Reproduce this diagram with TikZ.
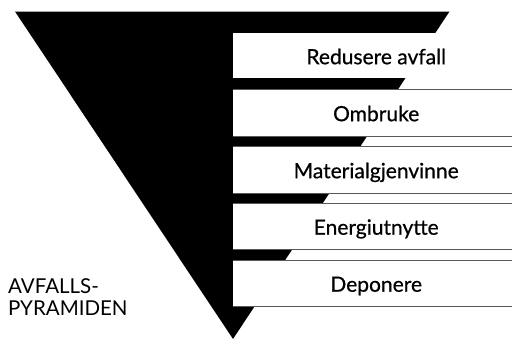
\documentclass[tikz,border=0pt]{standalone}
\usepackage{fontspec}
\setmainfont{Lato}
\newfontfamily\levelfont{Lato}[FakeBold=0.6]
\usetikzlibrary{positioning}
\tikzset{levelbox/.style={fill=white, inner sep=0pt, anchor=north west,
           minimum width=286pt, text height=17pt, text depth=0pt,
           font=\levelfont\fontsize{21}{24}\selectfont},
         edgeline/.style={draw=black!65, line width=0.7pt}}

\begin{document}
\begin{tikzpicture}[x=1pt,y=-1pt]
  \useasboundingbox (0,0) rectangle (512,340);
  % the pyramid
  \coordinate (tl) at (15,11.5);
  \coordinate (tr) at (449.5,11.5);
  \coordinate (apex) at (233,339);
  \fill (tl) -- (tr) -- (apex) -- cycle;
  % the levels
  \foreach \name/\top/\h/\txt in {b1/33/45/Redusere avfall, b2/89/47/Ombruke,
      b3/146/47/Materialgjenvinne, b4/203/46/Energiutnytte, b5/260/46/Deponere}
    \node[levelbox, minimum height=\h pt] (\name) at (233,\top) {\txt};
  \foreach \name in {b2,b3,b4,b5}
    \draw[edgeline] (\name.north west) -- (\name.north east)
                    (\name.south west) -- (\name.south east);
  \node[anchor=base west, align=left, inner sep=0pt,
        font=\fontsize{20.5}{22}\selectfont]
    (title) at (8,315) {AVFALLS-\\PYRAMIDEN};
\end{tikzpicture}
\end{document}
